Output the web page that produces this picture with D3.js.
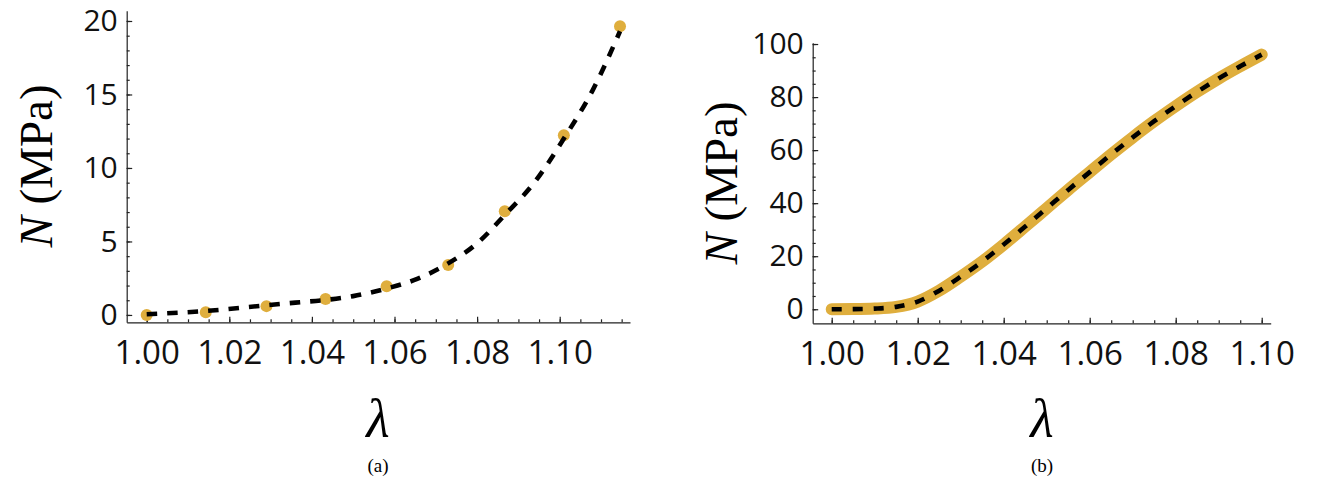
<!DOCTYPE html>
<html>
<head>
<meta charset="utf-8">
<script src="https://cdn.jsdelivr.net/npm/d3@7"></script>
<style>
  html, body { margin: 0; padding: 0; background: #fff; }
  svg { display: block; }
  .tick text { font-family: "Open Sans", sans-serif; fill: #111; }
  .serif { font-family: "Liberation Serif", "Times New Roman", serif; }
</style>
</head>
<body>
<svg id="fig" width="1318" height="482"></svg>
<script>
// Panel (a): measured stress points and fitted curve
const lambdaA = [1.0000, 1.0143, 1.0290, 1.0433, 1.0581, 1.0730, 1.0867, 1.1010, 1.1146];
const stressA = [0.0, 0.18, 0.60, 1.08, 1.95, 3.40, 7.05, 12.23, 19.64];
const fitLambdaA = [1.0000, 1.0143, 1.0290, 1.0360, 1.0433, 1.0500, 1.0581, 1.0655, 1.0730, 1.0800, 1.0867, 1.0940, 1.1010, 1.1080, 1.1146];
const fitStressA = [0.05, 0.27, 0.66, 0.84, 1.02, 1.28, 1.80, 2.45, 3.51, 4.87, 6.80, 9.06, 12.0, 15.3, 19.3];

// Panel (b): reference curve and fitted curve (same samples)
const lambdaB = [1.000, 1.005, 1.010, 1.015, 1.020, 1.025, 1.030, 1.035, 1.040, 1.045, 1.050, 1.055, 1.060, 1.065, 1.070, 1.075, 1.080, 1.085, 1.090, 1.095, 1.100];
const stressB = [0.0, 0.05, 0.25, 0.9, 2.9, 7.0, 12.3, 18.0, 24.4, 31.2, 38.1, 45.0, 51.7, 58.4, 64.8, 70.9, 76.6, 82.0, 87.0, 91.6, 96.0];

// Tick values
const xMajorTicks = [1.00, 1.02, 1.04, 1.06, 1.08, 1.10];
const xMinorTicksA = d3.range(0, 24).map(i => 1 + i * 0.005);
const xMinorTicksB = d3.range(0, 21).map(i => 1 + i * 0.005);
const yMajorTicksA = [0, 5, 10, 15, 20];
const yMinorTicksA = d3.range(0, 21);
const yMajorTicksB = [0, 20, 40, 60, 80, 100];
const yMinorTicksB = d3.range(0, 101, 5);

const gold = "#DFAE3D";
const svg = d3.select("#fig");

function drawAxes(xs, ys, xMinor, yMinor, yMajor) {
  const x0 = xs.range()[0], y0 = ys.range()[0];
  // minor ticks
  svg.append("g").attr("transform", `translate(0,${y0})`)
    .call(d3.axisBottom(xs).tickValues(xMinor).tickSizeInner(-3).tickSizeOuter(0).tickFormat(""))
    .call(g => g.select(".domain").remove());
  svg.append("g").attr("transform", `translate(${x0},0)`)
    .call(d3.axisLeft(ys).tickValues(yMinor).tickSizeInner(-3).tickSizeOuter(0).tickFormat(""))
    .call(g => g.select(".domain").remove());
  // major ticks with labels
  const gx = svg.append("g").attr("transform", `translate(0,${y0})`)
    .call(d3.axisBottom(xs).tickValues(xMajorTicks).tickSizeInner(-5.5).tickSizeOuter(0)
      .tickPadding(18).tickFormat(d3.format(".2f")));
  gx.selectAll(".tick text").attr("font-size", 33).attr("dy", "0.71em");
  const gy = svg.append("g").attr("transform", `translate(${x0},0)`)
    .call(d3.axisLeft(ys).tickValues(yMajor).tickSizeInner(-5.5).tickSizeOuter(0)
      .tickPadding(9).tickFormat(d3.format("d")));
  gy.selectAll(".tick text").attr("font-size", 30);
  svg.selectAll(".domain, .tick line").attr("stroke", "#222").attr("stroke-width", 1.2);
}

function drawLabels(cx, cy, lx, lambdaY, caption, capY) {
  // vertical axis title
  const t = svg.append("text").attr("class", "serif")
    .attr("transform", `translate(${lx},${cy}) rotate(-90)`)
    .attr("text-anchor", "middle")
    .attr("font-size", 47);
  t.append("tspan").attr("font-style", "italic").text("N");
  t.append("tspan").text(" (MPa)");
  // horizontal axis title
  svg.append("text").attr("class", "serif").attr("x", cx).attr("y", lambdaY)
    .attr("text-anchor", "middle")
    .attr("font-style", "italic")
    .attr("font-size", 54)
    .text("λ");
  svg.append("text").attr("class", "serif").attr("x", cx).attr("y", capY)
    .attr("text-anchor", "middle")
    .attr("font-size", 19)
    .text(caption);
}

// ---- Panel (a) ----
const xA = d3.scaleLinear().domain([0.995157, 1.11702]).range([126.7, 630]);
const yA = d3.scaleLinear().domain([-0.5, 20.7]).range([322.3, 10.7]);
drawAxes(xA, yA, xMinorTicksA, yMinorTicksA, yMajorTicksA);

svg.append("g").selectAll("circle")
  .data(lambdaA.map((l, i) => [l, stressA[i]]))
  .join("circle")
  .attr("cx", d => xA(d[0])).attr("cy", d => yA(d[1]))
  .attr("r", 6).attr("fill", gold);

const lineA = d3.line().x(d => xA(d[0])).y(d => yA(d[1])).curve(d3.curveMonotoneX);
svg.append("path")
  .datum(fitLambdaA.map((l, i) => [l, fitStressA[i]]))
  .attr("d", lineA)
  .attr("fill", "none").attr("stroke", "#000")
  .attr("stroke-width", 4.6).attr("stroke-dasharray", "10.5,10");

drawLabels(378, 166, 52, 437, "(a)", 472);

// ---- Panel (b) ----
const xB = d3.scaleLinear().domain([0.99558, 1.10209]).range([812.7, 1270.7]);
const yB = d3.scaleLinear().domain([-5.3, 100.5]).range([323.3, 42.7]);
drawAxes(xB, yB, xMinorTicksB, yMinorTicksB, yMajorTicksB);

const lineB = d3.line().x(d => xB(d[0])).y(d => yB(d[1])).curve(d3.curveMonotoneX);
const dataB = lambdaB.map((l, i) => [l, stressB[i]]);
svg.append("path").datum(dataB).attr("d", lineB)
  .attr("fill", "none").attr("stroke", gold)
  .attr("stroke-width", 12).attr("stroke-linecap", "round").attr("stroke-linejoin", "round");
svg.append("path").datum(dataB).attr("d", lineB)
  .attr("fill", "none").attr("stroke", "#000")
  .attr("stroke-width", 4.6).attr("stroke-dasharray", "10,11");

drawLabels(1042, 183, 737, 437, "(b)", 472);
</script>
</body>
</html>
